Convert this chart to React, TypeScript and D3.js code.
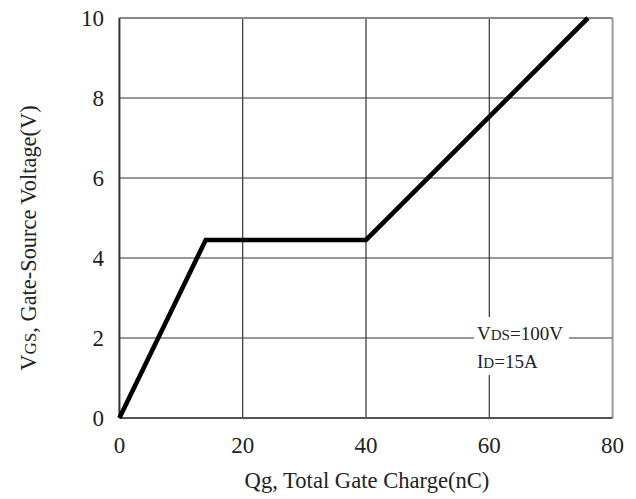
import React from "react";
import * as d3 from "d3";

const qg = [0, 14, 40, 76];
const vgs = [0, 4.45, 4.45, 10];
const xTicks = [0, 20, 40, 60, 80];
const yTicks = [0, 2, 4, 6, 8, 10];

const W = 636;
const H = 499;
const L = 119.4, R = 612.6, T = 18, B = 418;

export default function App() {
  const x = d3.scaleLinear().domain([0, 80]).range([L, R]);
  const y = d3.scaleLinear().domain([0, 10]).range([B, T]);
  const line = d3.line<number>().x((_, i) => x(qg[i])).y((d) => y(d));
  const font = "'Liberation Serif', 'DejaVu Serif', serif";
  return (
    <svg width={W} height={H} style={{ position: "absolute", left: 0, top: 0, background: "#fff" }} fontFamily={font}>
      {xTicks.slice(1, -1).map((t) => (
        <line key={"gx" + t} x1={x(t)} x2={x(t)} y1={T} y2={B} stroke="#333" strokeWidth={1.2} />
      ))}
      {yTicks.slice(1, -1).map((t) => (
        <line key={"gy" + t} x1={L} x2={R} y1={y(t)} y2={y(t)} stroke="#333" strokeWidth={1.2} />
      ))}
      <line x1={L} x2={R} y1={T} y2={T} stroke="#888" strokeWidth={2} />
      <line x1={R} x2={R} y1={T} y2={B} stroke="#999" strokeWidth={2} />
      <line x1={L} x2={R} y1={B} y2={B} stroke="#555" strokeWidth={2} />
      <line x1={L} x2={L} y1={T} y2={B} stroke="#333" strokeWidth={2} />
      <rect x={474} y={317} width={95} height={58} fill="#fff" />
      <path d={line(vgs) || ""} fill="none" stroke="#000" strokeWidth={4.6} strokeLinejoin="miter" />
      {yTicks.map((t) => (
        <text key={"yl" + t} x={104} y={y(t) + 8} textAnchor="end" fontSize={23} fill="#222">
          {t}
        </text>
      ))}
      {xTicks.map((t) => (
        <text key={"xl" + t} x={x(t)} y={453} textAnchor="middle" fontSize={23} fill="#222">
          {t}
        </text>
      ))}
      <text x={367} y={488} textAnchor="middle" fontSize={22.6} fill="#222">
        Qg, Total Gate Charge(nC)
      </text>
      <text transform="translate(36,238) rotate(-90)" textAnchor="middle" fontSize={22.4} fill="#222">
        V<tspan fontSize={17}>GS</tspan>, Gate-Source Voltage(V)
      </text>
      <text x={477} y={340} fontSize={19} fill="#222">
        V<tspan fontSize={15}>DS</tspan>=100V
      </text>
      <text x={477} y={368} fontSize={19} fill="#222">
        I<tspan fontSize={15}>D</tspan>=15A
      </text>
    </svg>
  );
}
